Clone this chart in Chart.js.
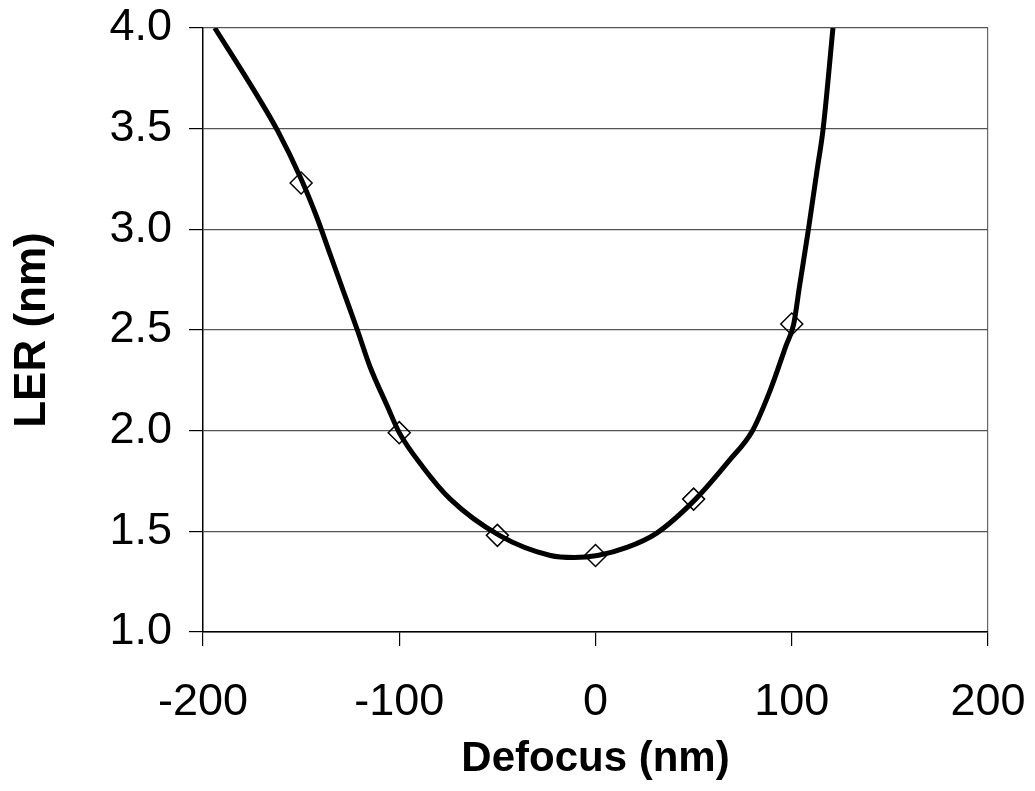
<!DOCTYPE html>
<html>
<head>
<meta charset="utf-8">
<script src="https://cdn.jsdelivr.net/npm/chart.js@4.4.0/dist/chart.umd.min.js"></script>
<style>
  body { margin: 0; background: #fff; }
</style>
</head>
<body>
<canvas id="myChart" width="1035" height="791"></canvas>
<script>
// measured points (open diamonds)
const defocus = [-150, -100, -50, 0, 50, 100];
const ler = [3.23, 1.99, 1.48, 1.38, 1.66, 2.53];

// fitted curve
const fitDefocus = [-194, -174, -162, -150, -142, -135, -128, -121, -115, -106, -100, -88, -74, -49, -23, -11, 1, 16, 31, 51, 68, 80, 89, 97, 101, 104, 108.5, 113, 116, 121];
const fitLer = [4.0, 3.69, 3.49, 3.25, 3.06, 2.87, 2.68, 2.49, 2.32, 2.12, 1.99, 1.82, 1.66, 1.48, 1.38, 1.37, 1.38, 1.42, 1.49, 1.66, 1.85, 2.00, 2.20, 2.42, 2.53, 2.72, 3.00, 3.30, 3.50, 4.0];

const xMin = -200, xMax = 200, xStep = 100;
const yMin = 1.0, yMax = 4.0, yStep = 0.5;

const font = "'Liberation Sans', Arial, sans-serif";

// drop the label overhang so the plot box sits where the padding says
function noOverhang(scale) {
  scale.paddingTop = 0;
  scale.paddingBottom = 0;
  scale.paddingLeft = 0;
  scale.paddingRight = 0;
}

const ctx = document.getElementById('myChart');
let chart = new Chart(ctx, {
  type: 'scatter',
  data: {
    datasets: [
      {
        type: 'line',
        data: fitDefocus.map((x, i) => ({ x: x, y: fitLer[i] })),
        borderColor: '#000',
        borderWidth: 5,
        pointRadius: 0,
        cubicInterpolationMode: 'monotone',
        fill: false,
        clip: 0,
        order: 2
      },
      {
        data: defocus.map((x, i) => ({ x: x, y: ler[i] })),
        pointStyle: 'rectRot',
        pointRadius: 11,
        borderColor: '#000',
        borderWidth: 1.5,
        backgroundColor: 'rgba(255,255,255,0)',
        order: 1
      }
    ]
  },
  options: {
    responsive: false,
    animation: false,
    layout: { padding: { left: 0, right: 47, top: 28, bottom: 0 } },
    plugins: {
      legend: { display: false },
      tooltip: { enabled: false }
    },
    scales: {
      x: {
        type: 'linear',
        min: xMin, max: xMax,
        ticks: {
          stepSize: xStep,
          color: '#000',
          font: { family: font, size: 45 },
          padding: 30
        },
        grid: {
          color: (c) => c.tick && c.tick.value === xMax ? '#666' : 'rgba(0,0,0,0)',
          lineWidth: 1.2,
          tickColor: '#000',
          tickLength: 14,
          tickWidth: 1.2
        },
        border: { color: '#000', width: 1.5 },
        title: {
          display: true,
          text: 'Defocus (nm)',
          color: '#000',
          font: { family: font, size: 42, weight: 'bold' },
          padding: { top: 0, bottom: 6 }
        },
        afterFit: function (scale) { scale.height = 791 - 632; noOverhang(scale); }
      },
      y: {
        type: 'linear',
        min: yMin, max: yMax,
        ticks: {
          stepSize: yStep,
          color: '#000',
          font: { family: font, size: 45 },
          padding: 17,
          callback: (v) => v.toFixed(1)
        },
        grid: {
          color: '#555',
          lineWidth: 1.2,
          tickColor: '#000',
          tickLength: 14,
          tickWidth: 1.2
        },
        border: { color: '#000', width: 1.5 },
        title: {
          display: true,
          text: 'LER (nm)',
          color: '#000',
          font: { family: font, size: 44, weight: 'bold' },
          padding: { top: 6, bottom: 0 }
        },
        afterFit: function (scale) { scale.width = 203; noOverhang(scale); }
      }
    }
  }
});
</script>
</body>
</html>
